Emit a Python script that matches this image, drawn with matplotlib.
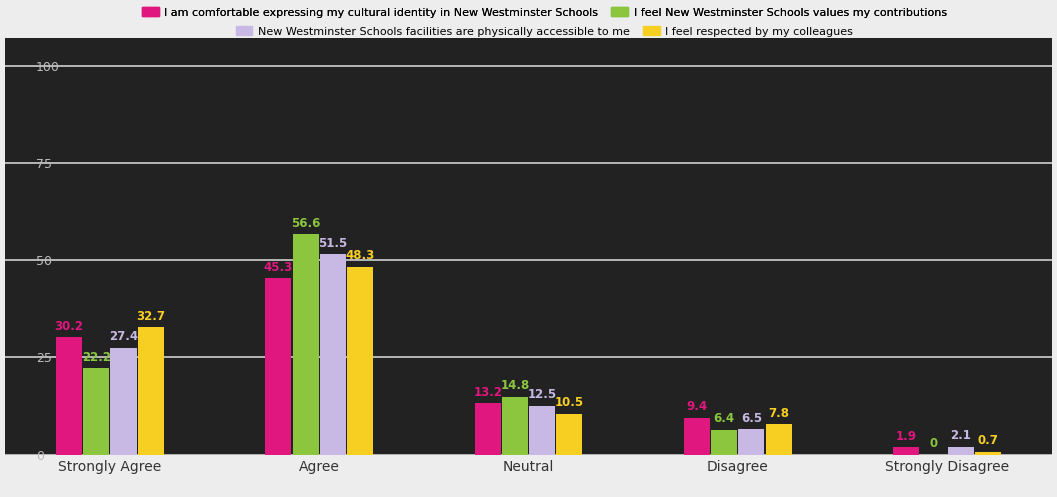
import numpy as np
import matplotlib.pyplot as plt
from matplotlib.patches import Patch

categories = ["Strongly Agree", "Agree", "Neutral", "Disagree", "Strongly Disagree"]

series_names = [
    "I am comfortable expressing my cultural identity in New Westminster Schools",
    "I feel New Westminster Schools values my contributions",
    "New Westminster Schools facilities are physically accessible to me",
    "I feel respected by my colleagues",
]
pink_vals = [30.2, 45.3, 13.2, 9.4, 1.9]
green_vals = [22.2, 56.6, 14.8, 6.4, 0.0]
lavender_vals = [27.4, 51.5, 12.5, 6.5, 2.1]
yellow_vals = [32.7, 48.3, 10.5, 7.8, 0.7]

y_ticks = [0, 25, 50, 75, 100]

colors = ["#e0177f", "#8cc63f", "#c8b8e4", "#f7cf22"]
all_vals = [pink_vals, green_vals, lavender_vals, yellow_vals]

fig = plt.figure(figsize=(10.57, 4.97), dpi=100, facecolor="#ededed")
ax = fig.add_axes([0.005, 0.085, 0.99, 0.838])
ax.set_facecolor("#222222")

x = np.arange(len(categories))
width = 0.13
offsets = (np.arange(4) - 1.5) * width

for vals, color, off in zip(all_vals, colors, offsets):
    bars = ax.bar(x + off, vals, width * 0.96, color=color, zorder=3)
    for b, v in zip(bars, vals):
        ax.text(b.get_x() + b.get_width() / 2, v + 1.2, f"{v:g}",
                ha="center", va="bottom", fontsize=8.5, fontweight="bold",
                color=color, zorder=4)

ax.set_xlim(-0.5, len(categories) - 0.5)
ax.set_ylim(0, 107)
ax.set_yticks(y_ticks)
ax.set_yticklabels([str(t) for t in y_ticks])
ax.tick_params(axis="y", direction="in", length=0, pad=-22, labelcolor="#bbbbbb", labelsize=9)
for lab in ax.get_yticklabels():
    lab.set_horizontalalignment("left")
ax.grid(axis="y", color="#cfcfcf", linewidth=1.2, zorder=1)
ax.set_xticks(x)
ax.set_xticklabels(categories, fontsize=10, color="#333333")
ax.tick_params(axis="x", length=0, pad=4)
for s in ax.spines.values():
    s.set_visible(False)

handles = [Patch(facecolor=c, edgecolor=c) for c in colors]
leg1 = fig.legend(handles[:2], series_names[:2], loc="center", ncol=2,
                  bbox_to_anchor=(0.515, 0.975), frameon=False, fontsize=8,
                  handlelength=1.5, handleheight=0.9, columnspacing=1.2,
                  borderpad=0, handletextpad=0.5)
leg2 = fig.legend(handles[2:], series_names[2:], loc="center", ncol=2,
                  bbox_to_anchor=(0.515, 0.937), frameon=False, fontsize=8,
                  handlelength=1.5, handleheight=0.9, columnspacing=1.2,
                  borderpad=0, handletextpad=0.5)
fig.add_artist(leg1)

fig.savefig("out.png", dpi=100, facecolor=fig.get_facecolor())
